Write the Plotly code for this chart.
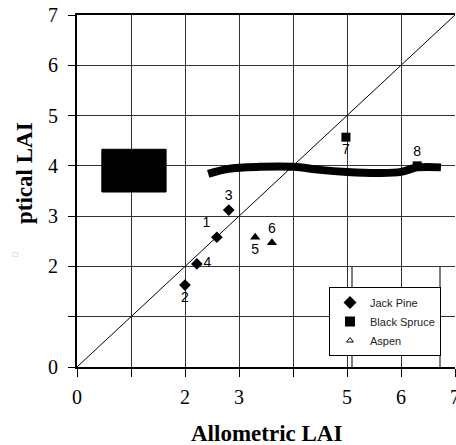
import plotly.graph_objects as go

# ---- data ----
jack_x = [2.59, 2.00, 2.81, 2.22]
jack_y = [2.58, 1.63, 3.12, 2.05]
jack_lab = ["1", "2", "3", "4"]
jack_pos = ["top left", "bottom center", "top center", "middle right"]

aspen_x = [3.30, 3.61]
aspen_y = [2.58, 2.47]
aspen_lab = ["5", "6"]
aspen_pos = ["bottom center", "top center"]

spruce_x = [4.98, 6.30]
spruce_y = [4.57, 4.00]
spruce_lab = ["7", "8"]
spruce_pos = ["bottom center", "top center"]

one_to_one = [0, 7]

band_x = [2.43, 2.80, 3.39, 4.00, 4.50, 5.00, 5.57, 6.00, 6.30, 6.74]
band_y = [3.84, 3.94, 3.98, 3.98, 3.92, 3.88, 3.86, 3.88, 3.97, 3.97]

block_x = [0.46, 1.65, 1.65, 0.46, 0.46]
block_y = [3.48, 3.48, 4.33, 4.33, 3.48]

tick_vals = [0, 1, 2, 3, 4, 5, 6, 7]
x_tick_text = ["0", "", "2", "3", "", "5", "6", "7"]
y_tick_text = ["0", "", "2", "3", "4", "5", "6", "7"]

SERIF = "Liberation Serif"
SANS = "Liberation Sans"

fig = go.Figure()

# 1:1 line
fig.add_trace(go.Scatter(x=one_to_one, y=one_to_one, mode="lines",
                         line=dict(color="black", width=1), showlegend=False, hoverinfo="skip"))
# filled block
fig.add_trace(go.Scatter(x=block_x, y=block_y, mode="lines", fill="toself",
                         fillcolor="black", line=dict(color="black", width=1),
                         showlegend=False, hoverinfo="skip"))
# thick band
fig.add_trace(go.Scatter(x=band_x, y=band_y, mode="lines",
                         line=dict(color="black", width=8, shape="spline", smoothing=1.0),
                         showlegend=False, hoverinfo="skip"))

lab_font = dict(family=SANS, size=14, color="black")
fig.add_trace(go.Scatter(x=jack_x, y=jack_y, mode="markers+text", text=jack_lab,
                         textposition=jack_pos, textfont=lab_font,
                         marker=dict(symbol="diamond", size=9, color="black"),
                         showlegend=False))
fig.add_trace(go.Scatter(x=aspen_x, y=aspen_y, mode="markers+text", text=aspen_lab,
                         textposition=aspen_pos, textfont=lab_font,
                         marker=dict(symbol="triangle-up", size=9, color="black"),
                         showlegend=False))
fig.add_trace(go.Scatter(x=spruce_x, y=spruce_y, mode="markers+text", text=spruce_lab,
                         textposition=spruce_pos, textfont=lab_font,
                         marker=dict(symbol="square", size=9, color="black"),
                         showlegend=False))

# legend entries
fig.add_trace(go.Scatter(x=[None], y=[None], mode="markers", name="Jack Pine", legendgroup="a",
                         marker=dict(symbol="diamond", size=10, color="black")))
fig.add_trace(go.Scatter(x=[None], y=[None], mode="markers", name="Black Spruce", legendgroup="b",
                         marker=dict(symbol="square", size=10, color="black")))
fig.add_trace(go.Scatter(x=[None], y=[None], mode="markers", name="Aspen", legendgroup="c",
                         marker=dict(symbol="triangle-up-open", size=6, color="black",
                                     line=dict(width=1, color="black"))))

# frame lines around the legend area (px -> paper)
def px_x(p):
    return (p - 77) / 378.0

def px_y(p):
    return (367 - p) / 352.0

shapes = [
    dict(type="line", xref="paper", yref="paper", x0=px_x(352), x1=px_x(352),
         y0=px_y(267), y1=px_y(367), line=dict(color="black", width=1)),
    dict(type="line", xref="paper", yref="paper", x0=px_x(440), x1=px_x(440),
         y0=px_y(267), y1=px_y(367), line=dict(color="black", width=1)),
]

fig.update_layout(
    width=456, height=445,
    margin=dict(l=77, r=1, t=15, b=78, autoexpand=False),
    paper_bgcolor="white", plot_bgcolor="white",
    legend=dict(x=px_x(441), y=px_y(287), xanchor="right", yanchor="top",
                bgcolor="white", bordercolor="black", borderwidth=1,
                font=dict(family=SANS, size=11, color="#222"),
                itemwidth=30, tracegroupgap=0, traceorder="grouped"),
    xaxis=dict(range=[0, 7], tickvals=tick_vals, ticktext=x_tick_text,
               showgrid=True, gridcolor="#333", gridwidth=1,
               showline=True, linecolor="black", linewidth=2, mirror=True,
               ticks="outside", ticklen=8, tickcolor="black", tickwidth=1,
               ticklabelstandoff=3, automargin=False, ticklabeloverflow="allow",
               tickfont=dict(family=SERIF, size=20, color="black"),
               zeroline=False, fixedrange=True),
    yaxis=dict(range=[0, 7], tickvals=tick_vals, ticktext=y_tick_text,
               showgrid=True, gridcolor="#333", gridwidth=1,
               showline=True, linecolor="black", linewidth=2,
               ticks="outside", ticklen=7, tickcolor="black", tickwidth=1,
               ticklabelstandoff=6, automargin=False, ticklabeloverflow="allow",
               tickfont=dict(family=SERIF, size=20, color="black"),
               zeroline=False, fixedrange=True),
    shapes=shapes,
    annotations=[
        dict(text="<b>Allometric LAI</b>", xref="paper", yref="paper", x=0.5, y=px_y(433),
             showarrow=False, font=dict(family=SERIF, size=23, color="black"),
             xanchor="center", yanchor="middle"),
        dict(text="<b>ptical LAI</b>", xref="paper", yref="paper", x=px_x(24), y=px_y(173),
             showarrow=False, textangle=-90, font=dict(family=SERIF, size=23, color="black"),
             xanchor="center", yanchor="middle"),
        dict(text="□", xref="paper", yref="paper", x=px_x(15), y=px_y(254),
             showarrow=False, font=dict(family=SANS, size=8, color="#999"),
             xanchor="center", yanchor="middle"),
    ],
)

fig.write_html("out.html", config={"displayModeBar": False},
               post_script="document.body.style.margin='0';document.body.style.overflow='hidden';")
